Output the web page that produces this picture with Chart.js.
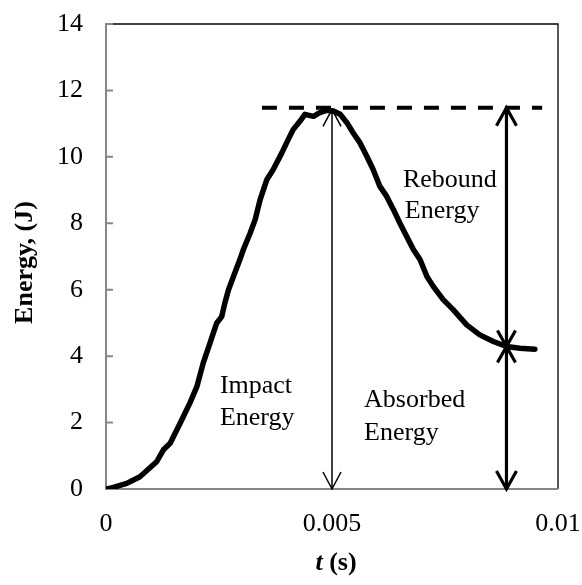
<!DOCTYPE html>
<html>
<head>
<meta charset="utf-8">
<script src="https://cdn.jsdelivr.net/npm/chart.js@4"></script>
<style>
  body { margin: 0; background: #fff; }
</style>
</head>
<body>
<canvas id="energyChart" width="582" height="585"></canvas>
<script>
// time (s) and energy (J)
const tValues = [0, 0.00009, 0.00046, 0.00075, 0.00112, 0.00127, 0.00142, 0.00164, 0.00186, 0.00201,
  0.00215, 0.00230, 0.00245, 0.00256, 0.00263, 0.00271, 0.00282, 0.00296, 0.00304, 0.00319,
  0.00330, 0.00341, 0.00356, 0.00370, 0.00389, 0.00403, 0.00414, 0.00429, 0.00440, 0.00459,
  0.00473, 0.00488, 0.00503, 0.00518, 0.00533, 0.00547, 0.00562, 0.00577, 0.00591, 0.00606,
  0.00621, 0.00636, 0.00650, 0.00665, 0.00680, 0.00695, 0.00710, 0.00724, 0.00746, 0.00768,
  0.00798, 0.00827, 0.00857, 0.00886, 0.00916, 0.00949];
const energy = [0, 0.02, 0.17, 0.37, 0.82, 1.18, 1.38, 1.98, 2.6, 3.08,
  3.79, 4.39, 5.00, 5.19, 5.60, 6.00, 6.40, 6.90, 7.21, 7.71,
  8.11, 8.71, 9.32, 9.62, 10.12, 10.52, 10.82, 11.07, 11.28, 11.22,
  11.33, 11.40, 11.38, 11.28, 11.03, 10.72, 10.42, 10.02, 9.62, 9.11,
  8.81, 8.41, 8.01, 7.61, 7.21, 6.90, 6.40, 6.10, 5.70, 5.40,
  4.94, 4.64, 4.44, 4.29, 4.24, 4.21];

const xTicks = [0, 0.005, 0.01];
const xTickLabels = ['0', '0.005', '0.01'];
const yTicks = [0, 2, 4, 6, 8, 10, 12, 14];

// reference levels for the energy arrows
const peakEnergy = 11.48;
const dashRange = [0.00345, 0.00965];
const impactT = 0.005;
const impactTop = 11.43;
const reboundT = 0.00886;
const absorbedEnergy = 4.29;

const serif = "'Liberation Serif', 'Times New Roman', serif";

const annotate = {
  id: 'annotate',
  beforeDatasetsDraw(chart) {
    const { ctx, chartArea: a } = chart;
    ctx.save();
    // frame: gray axes left/bottom, thin black top/right
    ctx.strokeStyle = '#000';
    ctx.lineWidth = 1.3;
    ctx.beginPath();
    ctx.moveTo(a.left, a.top);
    ctx.lineTo(a.right, a.top);
    ctx.lineTo(a.right, a.bottom);
    ctx.stroke();
    ctx.strokeStyle = '#868686';
    ctx.lineWidth = 2;
    ctx.beginPath();
    ctx.moveTo(a.left, a.top - 1);
    ctx.lineTo(a.left, a.bottom);
    ctx.lineTo(a.right, a.bottom);
    ctx.stroke();
    const ys = chart.scales.y;
    ctx.beginPath();
    yTicks.forEach(v => {
      const py = ys.getPixelForValue(v);
      ctx.moveTo(a.left, py);
      ctx.lineTo(a.left + 7, py);
    });
    ctx.stroke();
    ctx.restore();
  },
  afterDatasetsDraw(chart) {
    const { ctx, chartArea: a } = chart;
    const xs = chart.scales.x, ys = chart.scales.y;
    const X = v => xs.getPixelForValue(v);
    const Y = v => ys.getPixelForValue(v);
    ctx.save();
    ctx.strokeStyle = '#000';
    ctx.lineCap = 'butt';

    function head(x, y, dir, hw, len, w) {
      ctx.lineWidth = w;
      ctx.beginPath();
      ctx.moveTo(x - hw, y - dir * len);
      ctx.lineTo(x, y);
      ctx.lineTo(x + hw, y - dir * len);
      ctx.stroke();
    }
    // thin impact arrow
    head(X(impactT), Y(impactTop), -1, 9, 17, 1.5);
    head(X(impactT), Y(0), 1, 9, 17, 1.5);
    // thick rebound / absorbed arrows
    head(X(reboundT), Y(peakEnergy), -1, 10, 18, 3.2);
    head(X(reboundT), Y(absorbedEnergy), 1, 9, 16, 3.2);
    head(X(reboundT), Y(absorbedEnergy), -1, 9, 16, 3.2);
    head(X(reboundT), Y(0), 1, 10, 18, 3.2);

    // labels
    ctx.fillStyle = '#000';
    ctx.font = '26px ' + serif;
    ctx.textAlign = 'left';
    ctx.textBaseline = 'alphabetic';
    ctx.fillText('Impact', X(0.00252), Y(2.89));
    ctx.fillText('Energy', X(0.00252), Y(1.93));
    ctx.fillText('Rebound', X(0.00657), Y(9.10));
    ctx.fillText('Energy', X(0.00661), Y(8.15));
    ctx.fillText('Absorbed', X(0.00571), Y(2.47));
    ctx.fillText('Energy', X(0.00571), Y(1.48));

    // axis titles
    ctx.font = 'bold 26px ' + serif;
    ctx.save();
    ctx.translate(25, (a.top + a.bottom) / 2 + 6);
    ctx.rotate(-Math.PI / 2);
    ctx.textAlign = 'center';
    ctx.textBaseline = 'middle';
    ctx.fillText('Energy, (J)', 0, 0);
    ctx.restore();

    const tPart = 't', sPart = ' (s)';
    ctx.font = 'italic bold 26px ' + serif;
    const w1 = ctx.measureText(tPart).width;
    ctx.font = 'bold 26px ' + serif;
    const w2 = ctx.measureText(sPart).width;
    const x0 = 336 - (w1 + w2) / 2;
    ctx.textAlign = 'left';
    ctx.font = 'italic bold 26px ' + serif;
    ctx.fillText(tPart, x0, 570);
    ctx.font = 'bold 26px ' + serif;
    ctx.fillText(sPart, x0 + w1, 570);
    ctx.restore();
  }
};

new Chart(document.getElementById('energyChart'), {
  type: 'line',
  data: {
    datasets: [
      {
        data: tValues.map((t, i) => ({ x: t, y: energy[i] })),
        borderColor: '#000',
        borderWidth: 5.5,
        pointRadius: 0,
        borderJoinStyle: 'round',
        borderCapStyle: 'round',
        tension: 0
      },
      {
        data: [{ x: dashRange[0], y: peakEnergy }, { x: dashRange[1], y: peakEnergy }],
        borderColor: '#000',
        borderWidth: 4,
        borderDash: [15, 12],
        pointRadius: 0
      },
      {
        data: [{ x: impactT, y: 0 }, { x: impactT, y: impactTop }],
        borderColor: '#000',
        borderWidth: 1.5,
        pointRadius: 0
      },
      {
        data: [{ x: reboundT, y: 0 }, { x: reboundT, y: peakEnergy }],
        borderColor: '#000',
        borderWidth: 3.2,
        pointRadius: 0
      }
    ]
  },
  options: {
    responsive: false,
    animation: false,
    layout: { padding: { left: 0, top: 24, right: 24, bottom: 0 } },
    plugins: {
      legend: { display: false },
      tooltip: { enabled: false }
    },
    scales: {
      x: {
        type: 'linear',
        min: 0,
        max: 0.01,
        afterBuildTicks: s => { s.ticks = xTicks.map(v => ({ value: v })); },
        afterFit: s => {
          s.height = 96;
          s.paddingLeft = 0; s.paddingRight = 0; s.paddingTop = 0; s.paddingBottom = 0;
        },
        grid: { display: false, drawTicks: false },
        border: { display: false },
        ticks: {
          color: '#000',
          padding: 20,
          maxRotation: 0,
          font: { family: serif, size: 26 },
          callback: (v) => xTickLabels[xTicks.indexOf(v)] ?? ''
        }
      },
      y: {
        min: 0,
        max: 14,
        afterBuildTicks: s => { s.ticks = yTicks.map(v => ({ value: v })); },
        afterFit: s => {
          s.width = 106;
          s.paddingLeft = 0; s.paddingRight = 0; s.paddingTop = 0; s.paddingBottom = 0;
        },
        grid: { display: false, drawTicks: false },
        border: { display: false },
        ticks: {
          color: '#000',
          padding: 23,
          font: { family: serif, size: 26 }
        }
      }
    }
  },
  plugins: [annotate]
});
</script>
</body>
</html>
